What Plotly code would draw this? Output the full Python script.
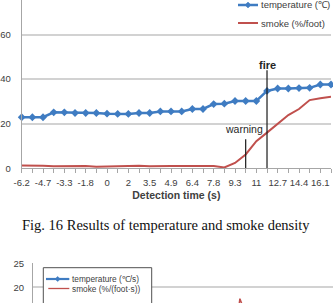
import plotly.graph_objects as go

W, H = 333, 303

# ---------------- data ----------------
tick_labels = ["-6.2", "-4.7", "-3.3", "-1.8", "0", "2", "3.5", "4.9", "6.4",
               "7.8", "9.3", "11", "12.7", "14.4", "16.1"]
temperature = [22.9, 22.9, 22.9, 25.1, 25.1, 24.8, 24.8, 24.8, 24.5, 24.4,
               24.4, 24.8, 24.8, 25.5, 25.5, 25.5, 26.6, 26.6, 28.8, 29.0,
               30.2, 30.2, 30.2, 34.7, 35.8, 35.8, 36.0, 36.1, 37.6, 37.6]
smoke = [1.3, 1.3, 1.2, 0.9, 1.0, 1.1, 1.0, 0.7, 0.8, 1.1,
         1.2, 1.2, 0.9, 0.8, 1.0, 1.0, 1.1, 1.1, 1.0, 0.4,
         2.4, 6.2, 12.2, 16.0, 19.9, 23.9, 26.6, 30.6, 31.4, 32.1]
event_labels = ["warning", "fire"]
event_index = [21, 23]
event_top = [13.0, 44.0]
series_names = ["temperature (℃)", "smoke (%/foot)"]

# second (partially visible) chart: rates
temp_rate = [0.2, 0.1, 0.3, 1.2, 0.4, 0.2, 0.1, 0.2, 0.3, 0.1,
             0.2, 0.3, 0.2, 0.5, 0.3, 0.2, 0.8, 0.4, 1.5, 0.6,
             0.9, 0.3, 0.4, 3.1, 0.8, 0.3, 0.2, 0.3, 1.0, 0.2]
smoke_rate = [0.3, 0.2, 0.2, 0.4, 0.3, 0.2, 0.3, 0.4, 0.2, 0.3,
              0.2, 0.3, 0.4, 0.2, 0.3, 0.2, 0.3, 0.2, 0.4, 0.6,
              17.6, 9.5, 6.0, 4.5, 3.8, 3.2, 2.4, 2.8, 1.0, 0.6]
rate_names = ["temperature (℃/s)", "smoke (%/(foot·s))"]

n = len(temperature)
xs = list(range(n))
tickvals = xs
ticktext = [tick_labels[i // 2] if i % 2 == 0 and i // 2 < len(tick_labels) else "" for i in xs]

BLUE = "#3f7cc2"
RED = "#c0504d"
GRID = "#d2d2d2"
AXIS = "#a6a6a6"
TXT = "#404040"
FONT = "Liberation Sans Narrow, Liberation Sans, Arial, sans-serif"


def px(p):
    return p / W


def py(p):
    return 1 - p / H


fig = go.Figure()
fig.add_trace(go.Scatter(x=xs, y=temperature, mode="lines+markers", name=series_names[0],
                         line=dict(color=BLUE, width=2.5),
                         marker=dict(symbol="diamond", size=6, color=BLUE),
                         cliponaxis=False, showlegend=False))
fig.add_trace(go.Scatter(x=xs, y=smoke, mode="lines", name=series_names[1],
                         line=dict(color=RED, width=2), cliponaxis=False, showlegend=False))

fig.add_trace(go.Scatter(x=xs, y=temp_rate, mode="lines+markers", name=rate_names[0],
                         line=dict(color=BLUE, width=2.5),
                         marker=dict(symbol="diamond", size=5, color=BLUE),
                         xaxis="x2", yaxis="y2", showlegend=False))
fig.add_trace(go.Scatter(x=xs, y=smoke_rate, mode="lines", name=rate_names[1],
                         line=dict(color=RED, width=1.5),
                         xaxis="x2", yaxis="y2", showlegend=False))

shapes = []
for idx, top in zip(event_index, event_top):
    shapes.append(dict(type="line", xref="x", yref="y", x0=idx, x1=idx, y0=0, y1=top,
                       line=dict(color="#1a1a1a", width=1.2)))


def legend_entry(x0, x1, yc, color, width, marker, label, size, tx):
    out_shapes = [dict(type="line", xref="paper", yref="paper", x0=px(x0), x1=px(x1),
                       y0=py(yc), y1=py(yc), line=dict(color=color, width=width))]
    if marker:
        mx = (x0 + x1) / 2
        r = marker
        path = (f"M {px(mx - r)},{py(yc)} L {px(mx)},{py(yc - r)} "
                f"L {px(mx + r)},{py(yc)} L {px(mx)},{py(yc + r)} Z")
        out_shapes.append(dict(type="path", xref="paper", yref="paper", path=path,
                               fillcolor=color, line=dict(color=color, width=0.5)))
    ann = dict(text=label, x=px(tx), y=py(yc), xref="paper", yref="paper",
               xanchor="left", yanchor="middle", showarrow=False,
               font=dict(family=FONT, size=size, color=TXT))
    return out_shapes, ann


annotations = [
    dict(text="<b>fire</b>", x=event_index[1], y=46.5, xref="x", yref="y", showarrow=False,
         font=dict(family=FONT, size=11, color="#262626")),
    dict(text="warning", x=event_index[0] - 0.2, y=17.6, xref="x", yref="y", showarrow=False,
         font=dict(family=FONT, size=10.5, color="#262626")),
    dict(text="Fig. 16 Results of temperature and smoke density", x=166 / W, y=py(225),
         xref="paper", yref="paper", showarrow=False, xanchor="center", yanchor="middle",
         font=dict(family="Liberation Serif, Times New Roman, serif", size=14.5, color="#111111")),
]

# legend of the first chart (top right)
for (yc, color, width, mk, label) in [(5, BLUE, 2.5, 3, series_names[0]),
                                      (23, RED, 2, 0, series_names[1])]:
    s, a = legend_entry(238, 258, yc, color, width, mk, label, 9.5, 259)
    shapes += s
    annotations.append(a)

# legend box of the second chart
shapes.append(dict(type="rect", xref="paper", yref="paper", x0=px(43.3), x1=px(151.7),
                   y0=py(267.7), y1=py(310), line=dict(color="#505050", width=1),
                   fillcolor="white", layer="above"))
for (yc, color, width, mk, label, x0) in [(279, BLUE, 2.2, 2.6, rate_names[0], 46),
                                          (288.5, RED, 1.3, 0, rate_names[1], 48.3)]:
    s, a = legend_entry(x0, 69.3, yc, color, width, mk, label, 8.3, 69.5)
    for sh in s:
        sh["layer"] = "above"
    shapes += s
    annotations.append(a)

fig.update_layout(
    width=W, height=H, margin=dict(l=0, r=0, t=0, b=0, autoexpand=False),
    paper_bgcolor="white", plot_bgcolor="white",
    font=dict(family=FONT, color=TXT),
    shapes=shapes, annotations=annotations, showlegend=False,
    xaxis=dict(domain=[21.7 / W, 331 / W], range=[0, n - 1], tickmode="array",
               tickvals=tickvals, ticktext=ticktext, ticks="outside", ticklen=4,
               tickcolor=AXIS, showline=True, linecolor=AXIS, linewidth=1,
               showgrid=False, zeroline=False, tickangle=0, ticklabelstandoff=1,
               tickfont=dict(size=9.5, color=TXT),
               title=dict(text="<b>Detection time (s)</b>", standoff=4,
                          font=dict(size=10.5, color=TXT)),
               anchor="y"),
    yaxis=dict(domain=[py(168.3), 1], range=[0, 75.5], tickvals=[0, 20, 40, 60],
               showgrid=True, gridcolor=GRID, gridwidth=1.5, showline=True,
               linecolor=AXIS, zeroline=False, ticks="", ticklabelstandoff=8,
               tickfont=dict(size=9.5, color=TXT), anchor="x"),
    xaxis2=dict(domain=[33 / W, 1], range=[0, n - 1], showline=False, showgrid=False,
                zeroline=False, showticklabels=False, ticks="", anchor="y2"),
    yaxis2=dict(domain=[0, py(263.3)], range=[16.7, 25], tickvals=[20, 25],
                showgrid=True, gridcolor=GRID, gridwidth=1.5, showline=True,
                linecolor=AXIS, zeroline=False, ticks="", ticklabelstandoff=6,
                tickfont=dict(size=9.5, color=TXT), anchor="x2"),
)

fig.write_html("out.html")
